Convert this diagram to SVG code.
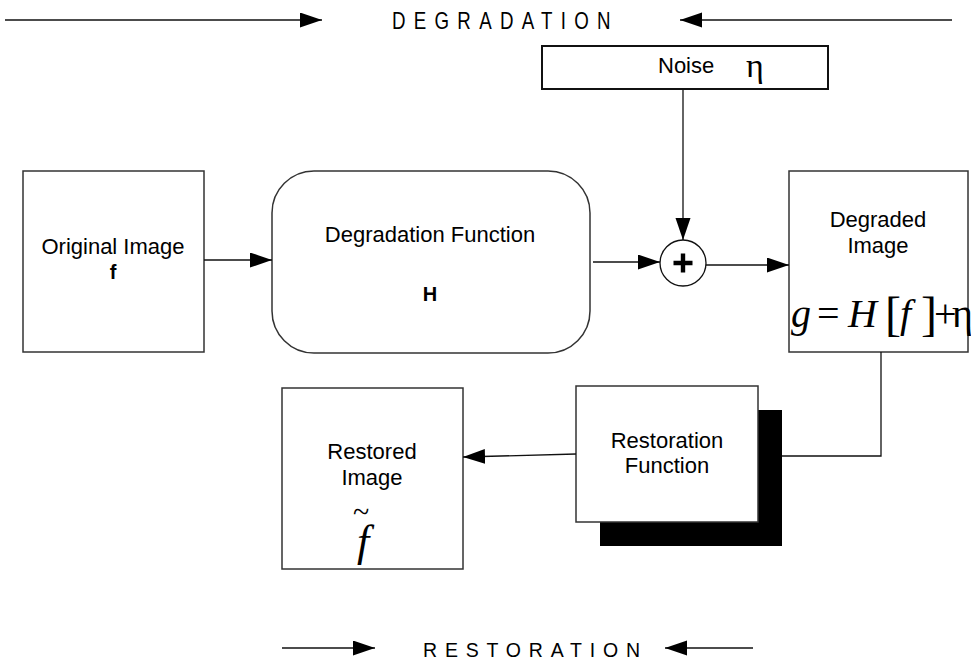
<svg xmlns="http://www.w3.org/2000/svg" width="971" height="661" viewBox="0 0 971 661">
  <defs>
    <marker id="arrow" markerUnits="userSpaceOnUse" markerWidth="24" markerHeight="16" refX="22" refY="7.5" orient="auto">
      <path d="M0,0 L22,7.5 L0,15 z" fill="#000"/>
    </marker>
    <style>
      .box { fill: #fff; stroke: #333; stroke-width: 1.5; }
      .wire { fill: none; stroke: #111; stroke-width: 1.3; }
      .arr { marker-end: url(#arrow); }
      .lbl { font-family: "Liberation Sans", Arial, sans-serif; font-size: 22px; fill: #000; }
      .mid { text-anchor: middle; }
      .bold { font-weight: bold; }
      .math { font-family: "Liberation Serif", "Times New Roman", serif; fill: #000; }
      .it { font-style: italic; }
      .banner { font-family: "Liberation Sans", Arial, sans-serif; fill: #000; }
    </style>
  </defs>

  <rect width="971" height="661" fill="#fff"/>

  <!-- stage banners -->
  <g id="banner-degradation">
    <text class="banner" transform="translate(392,29) scale(0.78,1)" font-size="24" letter-spacing="10.6">DEGRADATION</text>
  </g>
  <g id="banner-restoration">
    <text class="banner" x="423" y="657" font-size="19.5" letter-spacing="7.8">RESTORATION</text>
  </g>

  <!-- nodes -->
  <g id="original-image">
    <rect class="box" x="23" y="171" width="181" height="181"/>
    <text class="lbl mid" x="113" y="254">Original Image</text>
    <text class="lbl mid bold" x="113" y="279" style="font-size:20px">f</text>
  </g>

  <g id="degradation-function">
    <rect class="box" x="272" y="171" width="318" height="182" rx="42" ry="42"/>
    <text class="lbl mid" x="430" y="242">Degradation Function</text>
    <text class="lbl mid bold" x="430" y="301" style="font-size:20px">H</text>
  </g>

  <g id="noise">
    <rect x="542" y="46" width="286" height="43" fill="#fff" stroke="#111" stroke-width="2"/>
    <text class="lbl" x="658" y="73">Noise</text>
    <text class="math" x="746" y="77" font-size="34">η</text>
  </g>

  <g id="sum">
    <circle cx="683" cy="263" r="23" fill="#fff" stroke="#111" stroke-width="1.3"/>
    <path d="M673.5,263 H692.5 M683,253.5 V272.5" stroke="#000" stroke-width="4.4" fill="none"/>
  </g>

  <g id="degraded-image">
    <rect class="box" x="789" y="171" width="179" height="181"/>
    <text class="lbl mid" x="878" y="227">Degraded</text>
    <text class="lbl mid" x="878" y="253">Image</text>
    <text class="math" font-size="40" y="327">
      <tspan class="it" x="791">g</tspan>
      <tspan x="817">=</tspan>
      <tspan class="it" x="848">H</tspan>
      <tspan x="885" font-size="48" dy="3">[</tspan>
      <tspan class="it" x="900" dy="-3">f</tspan>
      <tspan x="921" font-size="48" dy="3">]</tspan>
      <tspan x="934" dy="-3">+</tspan>
      <tspan x="952">η</tspan>
    </text>
  </g>

  <g id="restoration-function">
    <rect x="600" y="410" width="182" height="136" fill="#000"/>
    <rect class="box" x="576" y="386" width="182" height="136"/>
    <text class="lbl mid" x="667" y="448">Restoration</text>
    <text class="lbl mid" x="667" y="473">Function</text>
  </g>

  <g id="restored-image">
    <rect class="box" x="282" y="388" width="181" height="181"/>
    <text class="lbl mid" x="372" y="459">Restored</text>
    <text class="lbl mid" x="372" y="485">Image</text>
    <text class="math" font-size="44">
      <tspan class="it" x="357" y="556">f</tspan>
      <tspan x="353" y="522" font-size="30">~</tspan>
    </text>
  </g>

  <!-- connectors -->
  <g id="connectors">
    <line class="wire arr" x1="5" y1="20" x2="322" y2="20"/>
    <line class="wire arr" x1="952" y1="20" x2="680" y2="20"/>
    <line class="wire arr" x1="282" y1="648" x2="375" y2="648"/>
    <line class="wire arr" x1="753" y1="648" x2="665" y2="648"/>
    <line class="wire arr" x1="204" y1="260" x2="272" y2="260"/>
    <line class="wire arr" x1="593" y1="262" x2="660" y2="262"/>
    <line class="wire arr" x1="683" y1="89" x2="683" y2="240"/>
    <line class="wire arr" x1="706" y1="265" x2="789" y2="265"/>
    <polyline class="wire" points="881,352 881,456 782,456"/>
    <line class="wire arr" x1="576" y1="454" x2="463" y2="457"/>
  </g>
</svg>
